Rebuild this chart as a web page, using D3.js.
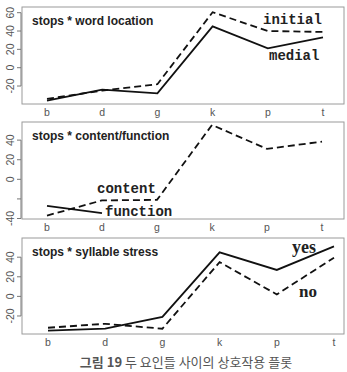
<!DOCTYPE html>
<html>
<head>
<meta charset="utf-8">
<script src="https://cdn.jsdelivr.net/npm/d3@7"></script>
<style>
  body { margin: 0; background: #fff; }
  svg { display: block; }
</style>
</head>
<body>
<div id="chart"></div>
<script>
var width = 347
var height = 372

// data
var stops = ["b", "d", "g", "k", "p", "t"]

var initial = [-34, -25, -18, 60.5, 40, 39]
var medial = [-36, -24, -28, 45, 21, 33]

var content = [-37, -21.5, -21, 55.5, 31, 38.5]
var functionW = [-27, -34.5, null, null, null, null]

var yes = [-35, -33, -21, 45, 27, 51]
var no = [-32, -28, -33, 35, 2, 39.5]

var titles = ["stops * word location", "stops * content/function", "stops * syllable stress"]
var yTicks1 = [-20, 0, 20, 40, 60]
var yTicks2 = [-40, -20, 0, 20, 40]
var yTicks3 = [-20, 0, 20, 40]
var caption = "두 요인들 사이의 상호작용 플롯"

var svg = d3.select("#chart")
    .append("svg")
        .attr("width", width)
        .attr("height", height)

// one plotting region
function panel(top, bottom, xRange, yDomain, ticks, hideLabels, title, series) {
    var x = d3.scalePoint().domain(stops).range(xRange)
    var y = d3.scaleLinear().domain(yDomain).range([bottom, top])
    var g = svg.append("g")

    g.append("rect")
        .attr("x", 22)
        .attr("y", top)
        .attr("width", 322)
        .attr("height", bottom - top)
        .attr("fill", "none")
        .attr("stroke", "#9a9a9a")
        .attr("stroke-width", 1)

    // y axis, R style: line only between first and last tick
    g.append("line")
        .attr("x1", 21).attr("x2", 21)
        .attr("y1", y(d3.min(ticks))).attr("y2", y(d3.max(ticks)))
        .attr("stroke", "#777")
    g.selectAll(".tk").data(ticks).enter().append("line")
        .attr("x1", 17).attr("x2", 21)
        .attr("y1", function(d) { return y(d) })
        .attr("y2", function(d) { return y(d) })
        .attr("stroke", "#777")
    g.selectAll(".tl").data(ticks.filter(function(d) { return hideLabels.indexOf(d) < 0 }))
        .enter().append("text")
        .attr("transform", function(d) { return "translate(14," + y(d) + ") rotate(-90)" })
        .attr("text-anchor", "middle")
        .attr("font-family", "Liberation Sans, Arial, sans-serif")
        .attr("font-size", "10.5px")
        .attr("fill", "#555")
        .text(function(d) { return d })

    g.selectAll(".xl").data(stops).enter().append("text")
        .attr("x", function(d) { return x(d) })
        .attr("y", bottom + 12)
        .attr("text-anchor", "middle")
        .attr("font-family", "Liberation Sans, Arial, sans-serif")
        .attr("font-size", "10.5px")
        .attr("fill", "#555")
        .text(function(d) { return d })

    g.append("text")
        .attr("x", 32)
        .attr("y", top + 18)
        .attr("font-family", "Liberation Sans, Arial, sans-serif")
        .attr("font-weight", "bold")
        .attr("font-size", "12px")
        .attr("fill", "#222")
        .text(title)

    var line = d3.line()
        .defined(function(d) { return d != null })
        .x(function(d, i) { return x(stops[i]) })
        .y(function(d) { return y(d) })

    series.forEach(function(s) {
        g.append("path")
            .attr("d", line(s.values))
            .attr("fill", "none")
            .attr("stroke", "#111")
            .attr("stroke-width", 1.8)
            .attr("stroke-dasharray", s.dashed ? "7,4" : null)
        g.append("text")
            .attr("x", s.lx)
            .attr("y", s.ly)
            .attr("font-family", s.font)
            .attr("font-weight", "bold")
            .attr("font-size", s.size)
            .attr("fill", "#222")
            .text(s.name)
    })
}

var courier = "Liberation Mono, Courier New, monospace"
var serif = "Liberation Serif, Times New Roman, serif"

panel(7, 104, [47, 323], [-39.6, 66.2], yTicks1, [], titles[0], [
    {name: "initial", values: initial, dashed: true, lx: 263, ly: 24, font: courier, size: "14px"},
    {name: "medial", values: medial, dashed: false, lx: 269, ly: 60, font: courier, size: "14px"}
])

panel(122, 219, [47, 322], [-40.5, 58.5], yTicks2, [-20], titles[1], [
    {name: "content", values: content, dashed: true, lx: 97, ly: 193, font: courier, size: "14px"},
    {name: "function", values: functionW, dashed: false, lx: 105, ly: 216, font: courier, size: "14px"}
])

panel(238, 334, [48, 334], [-38.4, 59.6], yTicks3, [], titles[2], [
    {name: "yes", values: yes, dashed: false, lx: 292, ly: 253, font: serif, size: "18px"},
    {name: "no", values: no, dashed: true, lx: 299, ly: 297, font: serif, size: "17px"}
])

var cap = svg.append("text")
    .attr("x", 186)
    .attr("y", 367)
    .attr("text-anchor", "middle")
    .attr("font-family", "Noto Sans CJK KR, sans-serif")
    .attr("font-size", "13px")
    .attr("fill", "#555")
cap.append("tspan").attr("font-weight", "bold").text("그림 19")
cap.append("tspan").text(" " + caption)
</script>
</body>
</html>
